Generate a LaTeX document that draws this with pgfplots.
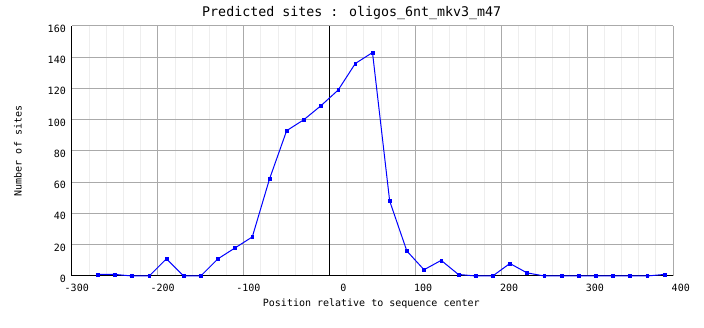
\documentclass[border=0pt]{standalone}
\usepackage{fontspec}
\setmainfont{DejaVu Sans Mono}
\setmonofont{DejaVu Sans Mono}
\usepackage{pgfplots}
\pgfplotsset{compat=1.18}
\definecolor{majgrid}{RGB}{170,170,170}
\definecolor{mingrid}{RGB}{238,238,238}
\begin{document}
\begin{tikzpicture}
\path[use as bounding box] (0,0) rectangle (704pt,328pt);
\begin{axis}[
  at={(72pt,52pt)}, anchor=south west,
  scale only axis, width=601pt, height=250pt,
  xmin=-300, xmax=400, ymin=0, ymax=160,
  xtick={-300,-200,-100,0,100,200,300,400},
  xticklabels={-300,-200,-100,0,100,200,300,400},
  ytick={0,20,40,60,80,100,120,140,160},
  yticklabels={0,20,40,60,80,100,120,140,160},
  minor x tick num=4,
  xmajorgrids, xminorgrids, ymajorgrids,
  major grid style={majgrid, line width=1pt},
  minor grid style={mingrid, line width=1pt},
  major tick length=0pt, minor tick length=0pt,
  axis line style={draw=none},
  tick label style={font=\fontsize{10}{12}\selectfont, inner sep=0pt},
  xticklabel style={anchor=base east, xshift=17pt, yshift=-16pt},
  yticklabel style={anchor=base east, xshift=-6pt, yshift=-6.5pt},
  title={Predicted sites : oligos\_6nt\_mkv3\_m47},
  title style={at={(axis description cs:0.4654,1.0132)}, anchor=base, font=\fontsize{13.3}{15}\selectfont, inner sep=0pt},
  xlabel={Position relative to sequence center},
  xlabel style={at={(axis description cs:0.498,-0.1228)}, anchor=base, font=\fontsize{10}{12}\selectfont, inner sep=0pt},
  ylabel={Number of sites},
  ylabel style={at={(axis description cs:-0.0837,0.5)}, anchor=base, font=\fontsize{10}{12}\selectfont, inner sep=0pt},
  clip=false,
]
\draw[black, line width=1pt] (rel axis cs:0,0) -- (rel axis cs:0,1);
\draw[black, line width=1pt] (rel axis cs:0,0) -- (rel axis cs:1,0);
\draw[black, line width=1pt] (axis cs:0,0) -- (axis cs:0,160);
\addplot[blue, line width=1pt, mark=square*, mark size=1.4pt, mark options={blue, line width=0.5pt}] coordinates {
(-270,1) (-250,1) (-230,0) (-210,0) (-190,11) (-170,0) (-150,0) (-130,11)
(-110,18) (-90,25) (-70,62) (-50,93) (-30,100) (-10,109) (10,119) (30,136)
(50,143) (70,48) (90,16) (110,4) (130,10) (150,1) (170,0) (190,0)
(210,8) (230,2) (250,0) (270,0) (290,0) (310,0) (330,0) (350,0) (370,0) (390,1)
};
\end{axis}
\end{tikzpicture}
\end{document}
